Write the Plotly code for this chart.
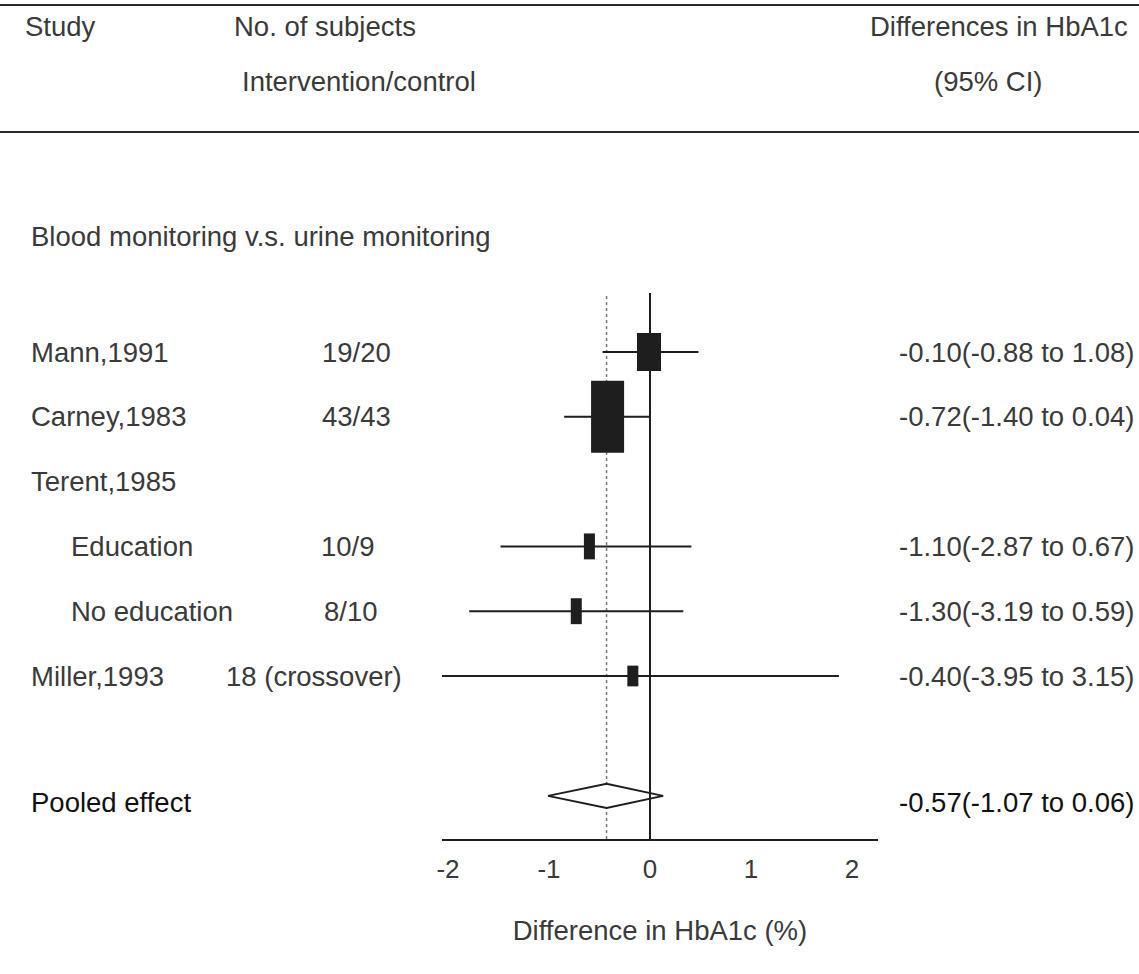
import plotly.graph_objects as go

W, H = 1139, 974
FONT = "Liberation Sans, Arial, sans-serif"
TXT = "#3a3a3a"
INK = "#1e1e1e"

# ---------------- data ----------------
studies = ["Mann,1991", "Carney,1983", "Terent,1985", "Education", "No education", "Miller,1993"]
subjects = ["19/20", "43/43", "", "10/9", "8/10", "18 (crossover)"]
effect_text = ["-0.10(-0.88 to 1.08)", "-0.72(-1.40 to 0.04)", "",
               "-1.10(-2.87 to 0.67)", "-1.30(-3.19 to 0.59)", "-0.40(-3.95 to 3.15)"]
estimate = [-0.01, -0.42, None, -0.60, -0.73, -0.17]
ci_low = [-0.47, -0.85, None, -1.48, -1.79, -2.10]
ci_high = [0.48, 0.00, None, 0.41, 0.33, 1.87]

pooled_label = "Pooled effect"
pooled_text = "-0.57(-1.07 to 0.06)"
pooled_est, pooled_low, pooled_high = -0.43, -1.01, 0.13

tick_values = [-2, -1, 0, 1, 2]
tick_labels = ["-2", "-1", "0", "1", "2"]

# ---------------- layout helpers (positions / sizes / styles) ----------------
rows = [0, 1, 2, 3, 4, 5]
pooled_row = 6.85
label_x = [29, 29, 29, 69, 69, 29]
subj_x = [320, 320, 320, 319, 322, 224]
box_w = [0.238, 0.327, 0, 0.109, 0.109, 0.109]
box_h = [0.586, 1.111, 0, 0.40, 0.40, 0.32]
diamond_half_h = 0.185
FS = 27.5


def px(x):
    return x / W


def py(y):
    return 1 - y / H


fig = go.Figure()

# CI lines
xs, ys = [], []
for r, lo, hi in zip(rows, ci_low, ci_high):
    if lo is None:
        continue
    xs += [lo, hi, None]
    ys += [r, r, None]
fig.add_trace(go.Scatter(x=xs, y=ys, mode="lines", line=dict(color=INK, width=2),
                         hoverinfo="skip", showlegend=False))

# pooled diamond
fig.add_trace(go.Scatter(
    x=[pooled_low, pooled_est, pooled_high, pooled_est, pooled_low],
    y=[pooled_row, pooled_row - diamond_half_h, pooled_row, pooled_row + diamond_half_h, pooled_row],
    mode="lines", fill="toself", fillcolor="white",
    line=dict(color=INK, width=2), hoverinfo="skip", showlegend=False))

shapes = []
# dotted pooled-estimate line (below traces)
shapes.append(dict(type="line", xref="x", yref="y domain", x0=pooled_est, x1=pooled_est,
                   y0=0, y1=1, line=dict(color="#777777", width=1.5, dash="dot"), layer="below"))
# zero line
shapes.append(dict(type="line", xref="x", yref="y domain", x0=0, x1=0, y0=0, y1=1,
                   line=dict(color=INK, width=2), layer="above"))
# boxes
for r, e, w, h in zip(rows, estimate, box_w, box_h):
    if e is None:
        continue
    shapes.append(dict(type="rect", xref="x", yref="y", x0=e - w / 2, x1=e + w / 2,
                       y0=r - h / 2, y1=r + h / 2, fillcolor=INK, line=dict(width=0),
                       layer="above"))
# table rules
shapes.append(dict(type="line", xref="paper", yref="paper", x0=0, x1=1, y0=py(5), y1=py(5),
                   line=dict(color="#2a2a2a", width=2)))
shapes.append(dict(type="line", xref="paper", yref="paper", x0=0, x1=1, y0=py(132), y1=py(132),
                   line=dict(color="#2a2a2a", width=2)))

ann = []


def text(x, y, s, xanchor="left", yref="paper", size=FS, color=TXT):
    ann.append(dict(x=x, y=y, xref="paper", yref=yref, text=s,
                    showarrow=False, xanchor=xanchor, yanchor="middle",
                    font=dict(family=FONT, size=size, color=color)))


# header
text(px(23), py(26), "Study")
text(px(232), py(26), "No. of subjects")
text(px(1130), py(26), "Differences in HbA1c", xanchor="right")
text(px(240), py(82), "Intervention/control")
text(px(988), py(82), "(95% CI)", xanchor="center")
text(px(29), py(236), "Blood monitoring v.s. urine monitoring")

# rows
for r, lab, lx, sub, sx, et in zip(rows, studies, label_x, subjects, subj_x, effect_text):
    text(px(lx), r, lab, yref="y")
    if sub:
        text(px(sx), r, sub, yref="y")
    if et:
        text(px(1136), r, et, xanchor="right", yref="y")

text(px(29), pooled_row + 0.1, pooled_label, yref="y", color="#111111")
text(px(1136), pooled_row + 0.1, pooled_text, xanchor="right", yref="y", color="#111111")

x0_px, x1_px = 442, 878
zero_px, unit_px = 650, 101
top_px, bot_px = 293, 839
row0_px, row_px = 352, 64.8

fig.update_layout(
    width=W, height=H, margin=dict(l=0, r=0, t=0, b=0),
    paper_bgcolor="white", plot_bgcolor="white",
    shapes=shapes, annotations=ann, showlegend=False,
    xaxis=dict(domain=[x0_px / W, x1_px / W],
               range=[(x0_px - zero_px) / unit_px, (x1_px - zero_px) / unit_px],
               tickvals=tick_values, ticktext=tick_labels, ticks="",
               showline=True, linecolor=INK, linewidth=2, showgrid=False, zeroline=False,
               tickfont=dict(family=FONT, size=26, color=TXT), ticklabelstandoff=6,
               title=dict(text="Difference in HbA1c (%)", standoff=38,
                          font=dict(family=FONT, size=FS, color=TXT)),
               automargin=False, fixedrange=True),
    yaxis=dict(domain=[1 - bot_px / H, 1 - top_px / H],
               range=[(bot_px - row0_px) / row_px, (top_px - row0_px) / row_px],
               visible=False, fixedrange=True),
)

fig.write_html("out.html")
